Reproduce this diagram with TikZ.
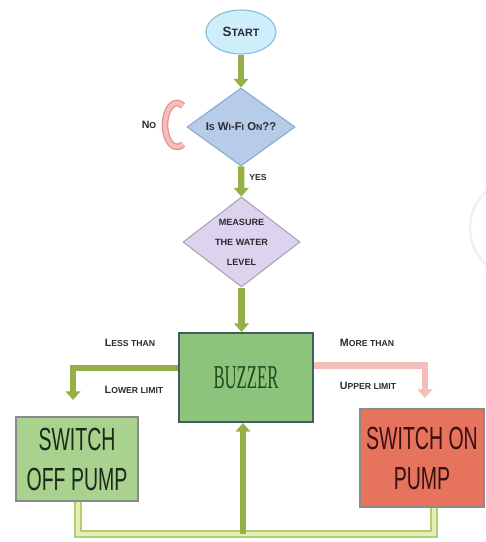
\documentclass[tikz,border=0pt]{standalone}
\usepackage{fontspec}
\setmainfont{Liberation Sans}
\newfontfamily\condsans[FakeStretch=0.61]{Liberation Sans}
\newfontfamily\condserif[FakeStretch=0.5]{Liberation Serif}
\usetikzlibrary{shapes.geometric,arrows.meta}
\definecolor{startfill}{HTML}{CDEEFA}
\definecolor{startdraw}{HTML}{86BCD8}
\definecolor{dafill}{HTML}{B6CCE8}
\definecolor{dadraw}{HTML}{8AA8CF}
\definecolor{dbfill}{HTML}{DDD3EF}
\definecolor{dbdraw}{HTML}{A9A3B8}
\definecolor{agreen}{HTML}{95B046}
\definecolor{buzzfill}{HTML}{8DC47B}
\definecolor{buzzdraw}{HTML}{3F5D63}
\definecolor{buzztext}{HTML}{1F4A1F}
\definecolor{offfill}{HTML}{A9D28F}
\definecolor{offtext}{HTML}{1B2B1B}
\definecolor{onfill}{HTML}{E6735D}
\definecolor{ontext}{HTML}{3A1010}
\definecolor{boxdraw}{HTML}{8A8A8A}
\definecolor{pinkfill}{HTML}{F5BDBB}
\definecolor{pinkdraw}{HTML}{E0908E}
\definecolor{loopfill}{HTML}{E2EFB6}
\definecolor{loopedge}{HTML}{B3CD72}
\definecolor{txt}{HTML}{2A2A33}
\newcommand\smc[2]{{\fontsize{#1}{#1}\selectfont #2}}
\tikzset{
  garrow/.style={draw=agreen, line width=4.8pt, -{Triangle[width=11pt,length=6.5pt]}},
  parrow/.style={draw=pinkfill, line width=5pt, -{Triangle[width=11pt,length=6.5pt]}},
  loopline/.style={draw=loopedge, double=loopfill, line width=0.9pt, double distance=3.6pt},
  lbl/.style={text=txt, font=\bfseries\fontsize{8}{9}\selectfont, inner sep=0pt},
  bigbox/.style={draw=boxdraw, line width=0.8pt, align=center, inner sep=0pt,
     font=\condsans\fontsize{24}{30}\selectfont},
}
\begin{document}
\begin{tikzpicture}[x=0.75pt,y=-0.75pt]
\useasboundingbox (0,0) rectangle (485,542);
% nodes
\node[ellipse, draw=startdraw, line width=0.8pt, fill=startfill, minimum width=52.5pt, minimum height=33pt, inner sep=0pt, text=txt, font=\bfseries\fontsize{10}{12}\selectfont]
  (start) at (241,32) {S\smc{8}{TART}};
\node[diamond, draw=dadraw, line width=0.8pt, fill=dafill, minimum width=81pt, minimum height=58.5pt, inner sep=0pt, aspect=1.38, text=txt, font=\bfseries\fontsize{8.5}{10}\selectfont]
  (wifi) at (241,127) {I\smc{6.5}{S} W\smc{6.5}{I}-F\smc{6.5}{I} O\smc{6.5}{N}??};
\node[diamond, draw=dbdraw, line width=0.8pt, fill=dbfill, minimum width=87.75pt, minimum height=67.5pt, inner sep=0pt, aspect=1.3, text=txt, align=center, font=\bfseries\fontsize{6.8}{15}\selectfont]
  (measure) at (241.5,242) {MEASURE\\THE WATER\\LEVEL};
\node[rectangle, draw=buzzdraw, line width=1.5pt, fill=buzzfill, minimum width=100.5pt, minimum height=66.75pt, inner sep=0pt, text=buzztext, font=\condserif\fontsize{25}{28}\selectfont]
  (buzz) at (246,377.5) {BUZZER};
\node[bigbox, fill=offfill, minimum width=91.5pt, minimum height=63pt, text=offtext]
  (off) at (77,459) {SWITCH\\OFF PUMP};
\node[bigbox, fill=onfill, minimum width=93pt, minimum height=73.5pt, text=ontext]
  (on) at (422,458) {SWITCH ON\\PUMP};
% labels
\node[lbl] (no) at (149,125) {N\smc{6.5}{O}};
\node[lbl] (yes) at (258,178) {\smc{6.5}{YES}};
\node[lbl] (less) at (130,343) {L\smc{6.5}{ESS THAN}};
\node[lbl] (lower) at (134,390) {L\smc{6.5}{OWER LIMIT}};
\node[lbl] (more) at (367,343) {M\smc{6.5}{ORE THAN}};
\node[lbl] (upper) at (368,386) {U\smc{6.5}{PPER LIMIT}};
% coordinates
\coordinate (lt) at (73,400);
\coordinate (rt) at (425,398);
\coordinate (bl) at (78,534);
\coordinate (br) at (434,534);
\coordinate (bm) at (243,534);
% connectors
\draw[garrow] (start) -- (wifi);
\draw[garrow] (wifi) -- (measure);
\draw[garrow] (measure.south) -- (measure.south |- buzz.north);
\draw[garrow] (buzz.west) ++(0,-9.5) -| (lt);
\draw[parrow] (buzz.east) ++(0,-12) -| (rt);
\draw[loopline] (off.south -| bl) -- (bl) -- (br) -- (br |- on.south);
\draw[garrow] (bm) -- (buzz.south -| bm);
% no-loop
\draw[draw=pinkdraw, double=pinkfill, line width=0.9pt, double distance=3.2pt]
  (177,125) ++(60:12 and 22) arc[start angle=60, end angle=300, x radius=12, y radius=22];
% faint arc at right edge
\draw[gray!12, line width=2pt] (495,271.3) arc[start angle=120, end angle=240, radius=50];
\end{tikzpicture}
\end{document}
